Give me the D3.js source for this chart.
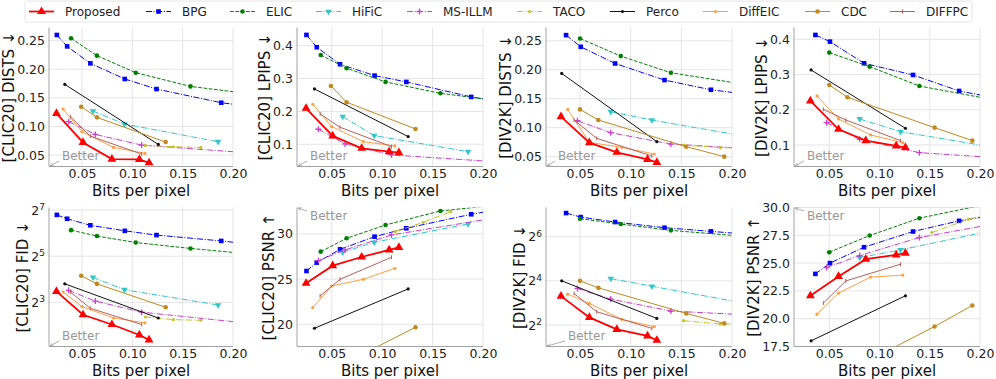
<!DOCTYPE html>
<html>
<head>
<meta charset="utf-8">
<script src="https://cdn.jsdelivr.net/npm/d3@7"></script>
<style>
  body { margin: 0; background: #fff; }
  svg { font-family: "DejaVu Sans", sans-serif; }
</style>
</head>
<body>
<svg id="chart" width="996" height="379"></svg>
<script>
// method order is the same in every data list below
const methods = ["Proposed", "BPG", "ELIC", "HiFiC", "MS-ILLM", "TACO", "Perco", "DiffEIC", "CDC", "DIFFPC"];

// bits per pixel, CLIC20
const clicBpp = [
  [0.0246, 0.051, 0.0797, 0.107, 0.1166],
  [0.025, 0.0352, 0.0583, 0.0925, 0.124, 0.1883, 0.22],
  [0.0391, 0.0648, 0.1034, 0.1578, 0.22],
  [0.0609, 0.0922, 0.1852],
  [0.0368, 0.0632, 0.1093, 0.22],
  [0.113, 0.1407, 0.168],
  [0.0329, 0.1258],
  [0.0312, 0.05, 0.0813, 0.1126],
  [0.0492, 0.0648, 0.1331],
  [0.0385, 0.0582, 0.1093]
];
// bits per pixel, DIV2K
const div2kBpp = [
  [0.0312, 0.0592, 0.0863, 0.1166, 0.1258],
  [0.0362, 0.0507, 0.0846, 0.1334, 0.1792, 0.22],
  [0.05, 0.0902, 0.1397, 0.22],
  [0.0803, 0.1209, 0.22],
  [0.0474, 0.0803, 0.1397, 0.22],
  [0.1522, 0.1885, 0.22],
  [0.0319, 0.1258],
  [0.0378, 0.0592, 0.0912, 0.1232],
  [0.05, 0.0681, 0.1548, 0.1924],
  [0.0441, 0.0665, 0.1209]
];

const clicDists = [
  [0.1229, 0.0721, 0.0429, 0.0424, 0.0365],
  [0.2599, 0.240, 0.2103, 0.183, 0.1654, 0.1415, 0.1346],
  [0.2541, 0.2238, 0.194, 0.170, 0.1564],
  [0.127, 0.1042, 0.0733],
  [0.1083, 0.0861, 0.0674, 0.0532],
  [0.0668, 0.0645, 0.0633],
  [0.1736, 0.0686],
  [0.1304, 0.0908, 0.0633, 0.0529],
  [0.1345, 0.1159, 0.0727],
  [0.117, 0.0832, 0.0517]
];
const clicLpips = [
  [0.2095, 0.1254, 0.0879, 0.0778, 0.0748],
  [0.4324, 0.395, 0.3433, 0.3088, 0.2896, 0.244, 0.2277],
  [0.3716, 0.3311, 0.2896, 0.2551, 0.2299],
  [0.1842, 0.1264, 0.0778],
  [0.1457, 0.101, 0.0677, 0.0454],
  [],
  [0.2683, 0.1234],
  [0.2217, 0.1538, 0.1082, 0.095],
  [0.2774, 0.2278, 0.1467],
  [0.1923, 0.1518, 0.093]
];
const clicFid = [
  [11.15, 5.52, 4.12, 3.01, 2.60],
  [110.6, 98.4, 80.9, 68.5, 60.3, 50.6, 45.4],
  [69.9, 58.6, 48.2, 40.4, 33.9],
  [16.97, 11.7, 7.4],
  [11.48, 8.32, 5.97, 4.22],
  [5.16, 4.77, 4.68],
  [13.96, 5.01],
  [10.93, 7.05, 5.01, 4.33],
  [17.8, 13.96, 6.91],
  [10.9, 6.7, 4.12]
];
const clicPsnr = [
  [24.54, 26.49, 27.45, 28.23, 28.52],
  [25.9, 26.83, 28.30, 29.70, 30.63, 32.18, 32.78],
  [28.04, 29.52, 31.0, 32.55, 33.26],
  [27.97, 29.08, 31.11],
  [27.05, 28.23, 29.89, 31.92],
  [30.26, 31.29, 32.47],
  [19.56, 23.91],
  [21.85, 24.24, 24.98, 26.2],
  [15.3, 15.8, 19.67],
  [23.14, 24.98, 27.42]
];
const div2kDists = [
  [0.119, 0.0741, 0.0575, 0.0454, 0.0402],
  [0.2598, 0.2397, 0.2109, 0.1822, 0.1655, 0.1565],
  [0.254, 0.2236, 0.1948, 0.1727],
  [0.1276, 0.1132, 0.083],
  [0.112, 0.0914, 0.0718, 0.0634],
  [0.0701, 0.0655, 0.065],
  [0.1937, 0.0759],
  [0.1316, 0.0747, 0.0661, 0.0546],
  [0.1316, 0.1132, 0.0672, 0.05],
  [0.1132, 0.0816, 0.0511]
];
const div2kLpips = [
  [0.225, 0.1446, 0.1124, 0.0973, 0.0925],
  [0.4123, 0.3934, 0.3319, 0.2988, 0.2534, 0.231],
  [0.3622, 0.3224, 0.2675, 0.2248],
  [0.1739, 0.1379, 0.0904],
  [0.1635, 0.1162, 0.0783, 0.0632],
  [],
  [0.313, 0.1474],
  [0.2392, 0.1739, 0.1285, 0.1067],
  [0.2704, 0.2354, 0.1493, 0.1124],
  [0.2013, 0.171, 0.1124]
];
const div2kFid = [
  [9.9, 5.08, 3.49, 2.84, 2.48],
  [134.2, 118.3, 101.3, 84.8, 75.6, 68.1],
  [112.4, 95.1, 78.0, 63.3],
  [17.2, 13.5, 7.6],
  [12.6, 9.02, 6.2, 5.46],
  [4.58, 4.13, 4.2],
  [16.0, 4.93],
  [10.54, 7.87, 4.78, 3.8],
  [16.0, 12.85, 5.76, 4.21],
  [10.77, 6.07, 3.6]
];
const div2kPsnr = [
  [22.06, 23.8, 25.35, 25.74, 25.89],
  [24.03, 25.0, 26.43, 27.84, 28.8, 29.39],
  [25.98, 27.48, 29.04, 30.55],
  [25.5, 26.19, 28.07],
  [24.6, 25.68, 27.3, 28.62],
  [27.75, 28.95, 29.6],
  [18.01, 22.06],
  [20.41, 22.3, 23.74, 23.92],
  [14.6, 15.25, 19.3, 21.19],
  [21.4, 23.4, 24.9]
];

const xTicks = [0.05, 0.10, 0.15, 0.20];

// styles per method
const colors = ["#ff0000", "#0000ff", "#008000", "#33c6c6", "#c93fc9", "#c4c428", "#111111", "#ffa040", "#c08a20", "#b8605e"];
const dashes = [null, "6,1.6,1,1.6", "3.7,1.6", "6,1.6,1,1.6", "6,1.6,1,1.6", "6,1.6,1,1.6", null, null, null, null];
const lineW = [1.8, 1, 1, 1, 1, 1, 1, 1, 1, 1];
const markers = ["triUp", "square", "circle", "triDown", "plus", "dot", "dot", "dot", "circle", "tick"];

const svg = d3.select("#chart");

const colLeft = [49, 297, 546, 794];
const colRight = [233, 483, 732, 980];
const colXmin = [0.0172, 0.0156, 0.0164, 0.0149];
const rowTop = [27.5, 207.5];
const rowBottom = [166.5, 346.5];

const panels = [
  {row: 0, col: 0, label: "[CLIC20] DISTS \u2193", bpp: clicBpp, vals: clicDists, dom: [0.030, 0.273], ticks: [0.05, 0.10, 0.15, 0.20, 0.25], fmt: ".2f", up: false, bdx: 13},
  {row: 0, col: 1, label: "[CLIC20] LPIPS \u2193", bpp: clicBpp, vals: clicLpips, dom: [0.0325, 0.455], ticks: [0.1, 0.2, 0.3, 0.4], fmt: ".1f", up: false, bdx: 13},
  {row: 0, col: 2, label: "[DIV2K] DISTS \u2193", bpp: div2kBpp, vals: div2kDists, dom: [0.033, 0.273], ticks: [0.05, 0.10, 0.15, 0.20, 0.25], fmt: ".2f", up: false, bdx: 12},
  {row: 0, col: 3, label: "[DIV2K] LPIPS \u2193", bpp: div2kBpp, vals: div2kLpips, dom: [0.039, 0.4335], ticks: [0.1, 0.2, 0.3, 0.4], fmt: ".1f", up: false, bdx: 13},
  {row: 1, col: 0, label: "[CLIC20] FID \u2193", bpp: clicBpp, vals: clicFid, dom: [2.13, 138], log: true, ticks: [8, 32, 128], up: false, bdx: 13},
  {row: 1, col: 1, label: "[CLIC20] PSNR \u2191", bpp: clicBpp, vals: clicPsnr, dom: [17.54, 32.93], ticks: [20, 25, 30], fmt: "d", up: true, bdx: 13},
  {row: 1, col: 2, label: "[DIV2K] FID \u2193", bpp: div2kBpp, vals: div2kFid, dom: [2.04, 159.8], log: true, ticks: [4, 16, 64], up: false, bdx: 22},
  {row: 1, col: 3, label: "[DIV2K] PSNR \u2191", bpp: div2kBpp, vals: div2kPsnr, dom: [17.5, 30], ticks: [17.5, 20, 22.5, 25, 27.5, 30], fmt: ".1f", up: true, bdx: 13}
];

svg.append("defs").append("marker")
  .attr("id", "arr")
  .attr("viewBox", "0 0 10 10")
  .attr("refX", 9).attr("refY", 5)
  .attr("markerWidth", 5).attr("markerHeight", 5)
  .attr("orient", "auto")
  .append("path")
  .attr("d", "M0,1L9,5L0,9")
  .attr("fill", "none")
  .attr("stroke", "#999")
  .attr("stroke-width", 1.4);

function drawMarker(g, type, cx, cy, color) {
  if (type == "triUp") {
    g.append("path").attr("d", d3.symbol(d3.symbolTriangle, 34)())
      .attr("transform", "translate(" + cx + "," + cy + ")").attr("fill", color);
  } else if (type == "triDown") {
    g.append("path").attr("d", d3.symbol(d3.symbolTriangle, 18)())
      .attr("transform", "translate(" + cx + "," + cy + ") rotate(180)").attr("fill", color);
  } else if (type == "square") {
    g.append("rect").attr("x", cx - 2.3).attr("y", cy - 2.3)
      .attr("width", 4.6).attr("height", 4.6).attr("fill", color);
  } else if (type == "circle") {
    g.append("circle").attr("cx", cx).attr("cy", cy).attr("r", 2.3).attr("fill", color);
  } else if (type == "plus") {
    g.append("path").attr("d", "M" + (cx - 3) + "," + cy + "H" + (cx + 3) + "M" + cx + "," + (cy - 3) + "V" + (cy + 3))
      .attr("stroke", color).attr("stroke-width", 1.3);
  } else if (type == "tick") {
    g.append("path").attr("d", "M" + cx + "," + (cy - 2) + "V" + (cy + 2))
      .attr("stroke", color).attr("stroke-width", 1);
  } else {
    g.append("circle").attr("cx", cx).attr("cy", cy).attr("r", 1.6).attr("fill", color);
  }
}

panels.forEach(function(p, pi) {
  let left = colLeft[p.col], right = colRight[p.col];
  let top = rowTop[p.row], bottom = rowBottom[p.row];

  let x = d3.scaleLinear().domain([colXmin[p.col], 0.2]).range([left, right]);
  let y = (p.log ? d3.scaleLog().base(2) : d3.scaleLinear()).domain(p.dom).range([bottom, top]);

  let g = svg.append("g").attr("class", "panel");

  // grid
  g.append("g").selectAll("line").data(xTicks).enter().append("line")
    .attr("x1", d => x(d)).attr("x2", d => x(d))
    .attr("y1", top).attr("y2", bottom)
    .attr("stroke", "#e2e2e2").attr("stroke-width", 0.9);
  g.append("g").selectAll("line").data(p.ticks).enter().append("line")
    .attr("x1", left).attr("x2", right)
    .attr("y1", d => y(d)).attr("y2", d => y(d))
    .attr("stroke", "#e2e2e2").attr("stroke-width", 0.9);

  // spines
  g.append("path")
    .attr("d", "M" + left + "," + top + "V" + bottom + "H" + right)
    .attr("fill", "none").attr("stroke", "#999").attr("stroke-width", 0.9);

  // axes
  let xAxis = g.append("g")
    .attr("transform", "translate(0," + bottom + ")")
    .call(d3.axisBottom(x).tickValues(xTicks).tickFormat(d3.format(".2f")).tickSize(0).tickPadding(3));
  xAxis.select(".domain").remove();
  xAxis.selectAll("text").attr("font-size", 12.5).attr("fill", "#222").attr("font-family", "DejaVu Sans");

  let yAxis = g.append("g")
    .attr("transform", "translate(" + left + ",0)")
    .call(d3.axisLeft(y).tickValues(p.ticks).tickSize(0).tickPadding(4)
      .tickFormat(p.log ? (() => "") : d3.format(p.fmt)));
  yAxis.select(".domain").remove();
  yAxis.selectAll("text").attr("font-size", 12.5).attr("fill", "#222").attr("font-family", "DejaVu Sans");
  if (p.log) {
    yAxis.selectAll("text").each(function(d) {
      let t = d3.select(this);
      t.append("tspan").text("2");
      t.append("tspan").attr("dy", "-0.5em").attr("font-size", 9).text(Math.round(Math.log2(d)));
    });
  }

  let bb = yAxis.node().getBBox();
  g.append("text")
    .attr("transform", "translate(" + (left + bb.x - 3) + "," + ((top + bottom) / 2) + ") rotate(-90)")
    .attr("text-anchor", "middle")
    .attr("font-size", 15).attr("fill", "#111")
    .text(p.label);

  g.append("text")
    .attr("x", (left + right) / 2).attr("y", bottom + 29)
    .attr("text-anchor", "middle")
    .attr("font-size", 15).attr("fill", "#111")
    .text("Bits per pixel");

  // "Better" hint
  if (p.up) {
    g.append("text").attr("x", left + p.bdx).attr("y", top + 12)
      .attr("font-size", 12).attr("fill", "#999").text("Better");
    g.append("line")
      .attr("x1", left + p.bdx - 3).attr("y1", top + 3.5)
      .attr("x2", left + 1).attr("y2", top + 0.5)
      .attr("stroke", "#999").attr("stroke-width", 0.8).attr("marker-end", "url(#arr)");
  } else {
    g.append("text").attr("x", left + p.bdx).attr("y", bottom - 7)
      .attr("font-size", 12).attr("fill", "#999").text("Better");
    g.append("line")
      .attr("x1", left + p.bdx - 3).attr("y1", bottom - 5.5)
      .attr("x2", left + 1).attr("y2", bottom - 0.5)
      .attr("stroke", "#999").attr("stroke-width", 0.8).attr("marker-end", "url(#arr)");
  }

  // data
  let clipId = "clip" + pi;
  svg.select("defs").append("clipPath").attr("id", clipId)
    .append("rect").attr("x", left).attr("y", top)
    .attr("width", right - left).attr("height", bottom - top);

  let plot = g.append("g").attr("clip-path", "url(#" + clipId + ")");
  let order = d3.range(1, methods.length).concat([0]);
  order.forEach(function(m) {
    let xs = p.bpp[m], ys = p.vals[m];
    if (!ys.length) return;
    let pts = ys.map((v, i) => [xs[i], v]);
    let line = d3.line().x(d => x(d[0])).y(d => y(d[1]));
    plot.append("path")
      .attr("d", line(pts))
      .attr("fill", "none")
      .attr("stroke", colors[m])
      .attr("stroke-width", lineW[m])
      .attr("stroke-dasharray", dashes[m]);
    let mg = plot.append("g");
    pts.forEach(d => drawMarker(mg, markers[m], x(d[0]), y(d[1]), colors[m]));
  });
});

// legend
let legend = svg.append("g");
legend.append("rect")
  .attr("x", 25).attr("y", 1).attr("width", 947).attr("height", 21)
  .attr("rx", 2).attr("fill", "#fff").attr("stroke", "#e0e0e0").attr("stroke-width", 0.8);
const legendX = [29, 146, 230, 316, 407, 517, 610, 703, 805, 890];
methods.forEach(function(name, m) {
  let lx = legendX[m], ly = 11.5;
  legend.append("line")
    .attr("x1", lx).attr("x2", lx + 25).attr("y1", ly).attr("y2", ly)
    .attr("stroke", colors[m]).attr("stroke-width", lineW[m])
    .attr("stroke-dasharray", dashes[m]);
  drawMarker(legend, markers[m], lx + 12.5, ly, colors[m]);
  legend.append("text")
    .attr("x", lx + 36).attr("y", ly + 4.3)
    .attr("font-size", 12).attr("fill", "#222")
    .text(name);
});
</script>
</body>
</html>
